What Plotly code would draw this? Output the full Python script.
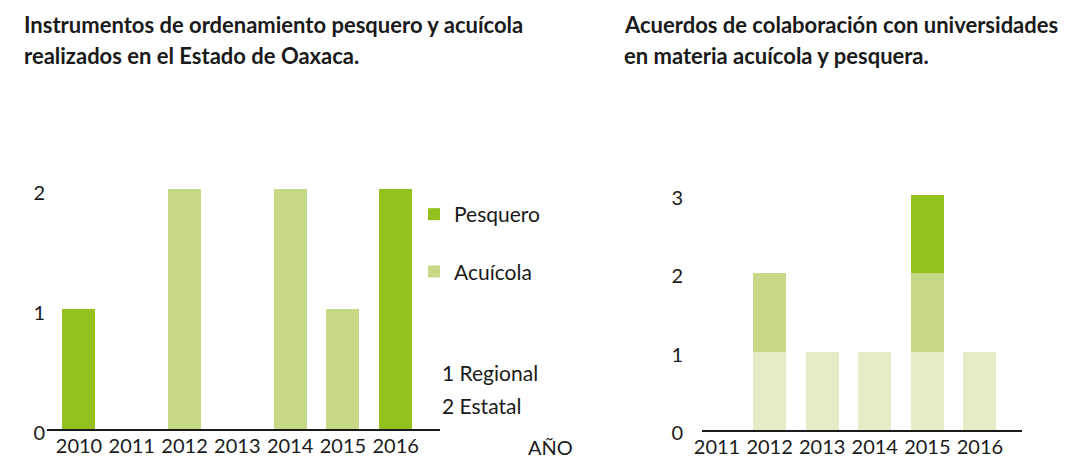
import plotly.graph_objects as go

# ---- data ----
years_left = ["2010", "2011", "2012", "2013", "2014", "2015", "2016"]
pesquero = [1, 0, 0, 0, 0, 0, 2]
acuicola = [0, 0, 2, 0, 2, 1, 0]

years_right = ["2011", "2012", "2013", "2014", "2015", "2016"]
right_base = [0, 1, 1, 1, 1, 1]
right_mid = [0, 1, 0, 0, 1, 0]
right_top = [0, 0, 0, 0, 1, 0]

left_ticks = [0, 1, 2]
right_ticks = [0, 1, 2, 3]

left_title = ["Instrumentos de ordenamiento pesquero y acuícola",
              "realizados en el Estado de Oaxaca."]
right_title = ["Acuerdos de colaboración con universidades",
               "en materia acuícola y pesquera."]

DARK = "#95C11F"
LIGHT = "#C5D986"
LIGHTEST = "#E3EBC7"
FONT = "Lato"
TXT = "#1a1a1a"
W, H = 1073, 459

def px_x(p):
    return p / W

def px_y(p):
    return 1 - p / H

fig = go.Figure()
fig.add_trace(go.Bar(x=years_left, y=pesquero, name="Pesquero", marker_color=DARK,
                     marker_line_width=0, width=0.625, xaxis="x", yaxis="y", legendgroup="a"))
fig.add_trace(go.Bar(x=years_left, y=acuicola, name="Acuícola", marker_color=LIGHT,
                     marker_line_width=0, width=0.625, xaxis="x", yaxis="y", legendgroup="b"))
fig.add_trace(go.Bar(x=years_right, y=right_base, marker_color=LIGHTEST, marker_line_width=0,
                     width=0.63, xaxis="x2", yaxis="y2", showlegend=False))
fig.add_trace(go.Bar(x=years_right, y=right_mid, marker_color=LIGHT, marker_line_width=0,
                     width=0.63, xaxis="x2", yaxis="y2", showlegend=False))
fig.add_trace(go.Bar(x=years_right, y=right_top, marker_color=DARK, marker_line_width=0,
                     width=0.63, xaxis="x2", yaxis="y2", showlegend=False))

tickfont = dict(family=FONT, size=20, color=TXT)

fig.update_layout(
    width=W, height=H,
    margin=dict(l=0, r=0, t=0, b=0, autoexpand=False),
    paper_bgcolor="white", plot_bgcolor="white",
    barmode="stack", bargap=0,
    font=dict(family=FONT, size=20, color=TXT),
    xaxis=dict(type="category", domain=[px_x(47), px_x(440)], range=[-0.606, 6.84],
               showline=True, linecolor=TXT, linewidth=1.5, ticks="",
               showgrid=False, zeroline=False, tickfont=tickfont, anchor="y",
               automargin=False, ticklabelstandoff=-2),
    yaxis=dict(domain=[px_y(429), px_y(159)], range=[0, 270 / 120],
               tickvals=left_ticks, showgrid=False, zeroline=False, showline=False,
               ticks="", tickfont=tickfont, anchor="x", ticklabelstandoff=1,
               ticklabelshift=4, automargin=False),
    xaxis2=dict(type="category", domain=[px_x(702), px_x(1022)], range=[-0.285, 5.8],
                showline=True, linecolor=TXT, linewidth=1.5, ticks="",
                showgrid=False, zeroline=False, tickfont=tickfont, anchor="y2",
                automargin=False, ticklabelstandoff=-2),
    yaxis2=dict(domain=[px_y(430), px_y(159)], range=[0, 271 / 78.5],
                tickvals=right_ticks, showgrid=False, zeroline=False, showline=False,
                ticks="", tickfont=tickfont, anchor="x2", ticklabelstandoff=18,
                ticklabelshift=3, automargin=False),
    legend=dict(x=px_x(414), y=px_y(194), xanchor="left", yanchor="top",
                traceorder="grouped", tracegroupgap=27,
                font=dict(family=FONT, size=21, color=TXT),
                bgcolor="rgba(0,0,0,0)"),
    showlegend=True,
)

title_font = dict(family=FONT, size=22, color=TXT, weight="bold")
for i, line in enumerate(left_title):
    fig.add_annotation(text=line, xref="paper", yref="paper", x=px_x(22), y=px_y(25 + 31 * i),
                       xanchor="left", yanchor="middle", showarrow=False, font=title_font)
for i, line in enumerate(right_title):
    fig.add_annotation(text=line, xref="paper", yref="paper", x=px_x(622), y=px_y(25 + 31 * i),
                       xanchor="left", yanchor="middle", showarrow=False, font=title_font)

note_font = dict(family=FONT, size=21, color=TXT)
fig.add_annotation(text="1 Regional", xref="paper", yref="paper", x=px_x(440), y=px_y(372),
                   xanchor="left", yanchor="middle", showarrow=False, font=note_font)
fig.add_annotation(text="2 Estatal", xref="paper", yref="paper", x=px_x(440), y=px_y(405),
                   xanchor="left", yanchor="middle", showarrow=False, font=note_font)
fig.add_annotation(text="AÑO", xref="paper", yref="paper", x=px_x(526), y=px_y(447),
                   xanchor="left", yanchor="middle", showarrow=False,
                   font=dict(family=FONT, size=20, color=TXT))

fig.write_html("out.html", config={"displayModeBar": False},
               post_script="document.body.style.margin='0';document.body.style.overflow='hidden';")
